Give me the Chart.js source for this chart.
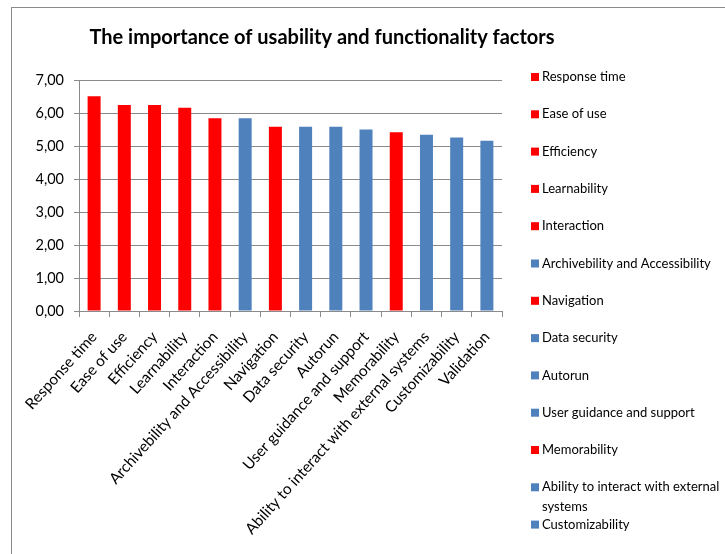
<!DOCTYPE html>
<html>
<head>
<meta charset="utf-8">
<script src="https://cdn.jsdelivr.net/npm/chart.js@4/dist/chart.umd.min.js"></script>
<style>
  html, body { margin: 0; padding: 0; background: #fff; overflow: hidden; }
  #wrap { position: relative; width: 725px; height: 554px; }
  #frame { position: absolute; left: 11px; top: 7px; right: -5px; bottom: -5px;
           border-left: 1.5px solid #8a8a8a; border-top: 1.5px solid #8a8a8a; pointer-events: none; }
  canvas { position: absolute; left: 0; top: 0; }
</style>
</head>
<body>
<div id="wrap">
  <canvas id="c" width="725" height="554"></canvas>
  <div id="frame"></div>
</div>
<script>
const titleText = "The importance of usability and functionality factors";
const categories = [
  "Response time", "Ease of use", "Efficiency", "Learnability", "Interaction",
  "Archivebility and Accessibility", "Navigation", "Data security", "Autorun",
  "User guidance and support", "Memorability", "Ability to interact with external systems",
  "Customizability", "Validation"
];
const values = [6.51, 6.24, 6.24, 6.16, 5.84, 5.84, 5.58, 5.58, 5.58, 5.50, 5.42, 5.34, 5.26, 5.16];
// group: 0 = red group, 1 = blue group
const groups = [0, 0, 0, 0, 0, 1, 0, 1, 1, 1, 0, 1, 1, 1];
const palette = ["#FF0000", "#4F81BD"];
const yTicks = { min: 0, max: 7, step: 1 };

const FONT = "Lato, 'Open Sans', sans-serif";
const barColors = groups.map(g => palette[g]);

const customPlugin = {
  id: 'custom',
  afterDraw(chart) {
    const ctx = chart.ctx;
    ctx.save();
    // title
    ctx.fillStyle = '#000';
    ctx.font = "bold 20px " + FONT;
    ctx.textAlign = 'center';
    ctx.textBaseline = 'middle';
    ctx.fillText(titleText, 322, 38);
    // legend
    ctx.font = "13px " + FONT;
    ctx.textAlign = 'left';
    const x0 = 531, tx = 542, maxW = 725 - tx + 2;
    let y = 77;
    const step = 37.3;
    categories.forEach((cat, i) => {
      if (y + 8 > chart.height) return;
      ctx.fillStyle = barColors[i];
      ctx.fillRect(x0, y - 4, 8, 8);
      ctx.fillStyle = '#000';
      const words = cat.split(' ');
      const lines = [];
      let line = '';
      words.forEach(w => {
        const test = line ? line + ' ' + w : w;
        if (ctx.measureText(test).width > maxW && line) { lines.push(line); line = w; }
        else line = test;
      });
      lines.push(line);
      lines.forEach((l, k) => ctx.fillText(l, tx, y + k * 20));
      y += step;
    });
    ctx.restore();
  }
};

new Chart(document.getElementById('c'), {
  type: 'bar',
  data: {
    labels: categories,
    datasets: [{
      data: values,
      backgroundColor: barColors,
      borderWidth: 0,
      barPercentage: 0.43,
      categoryPercentage: 1.0
    }]
  },
  options: {
    responsive: false,
    animation: false,
    devicePixelRatio: 1,
    layout: { padding: { top: 80, right: 223, left: 0, bottom: 0 } },
    plugins: { legend: { display: false }, title: { display: false }, tooltip: { enabled: false } },
    scales: {
      x: {
        afterFit(scale) { scale.height = 243; },
        grid: { display: true, drawOnChartArea: false, drawTicks: true, tickLength: 6, color: '#8a8a8a', offset: true },
        border: { display: true, color: '#8a8a8a' },
        ticks: {
          autoSkip: false, maxRotation: 48, minRotation: 48, color: '#000', padding: 11,
          font: { family: FONT, size: 15.3 }
        }
      },
      y: {
        min: yTicks.min, max: yTicks.max,
        afterFit(scale) { scale.width = 79; },
        grid: { color: '#8a8a8a', tickLength: 5 },
        border: { display: true, color: '#8a8a8a' },
        ticks: {
          stepSize: yTicks.step, color: '#000', padding: 10,
          font: { family: FONT, size: 14.5 },
          callback: v => v.toFixed(2).replace('.', ',')
        }
      }
    }
  },
  plugins: [customPlugin]
});
</script>
</body>
</html>
